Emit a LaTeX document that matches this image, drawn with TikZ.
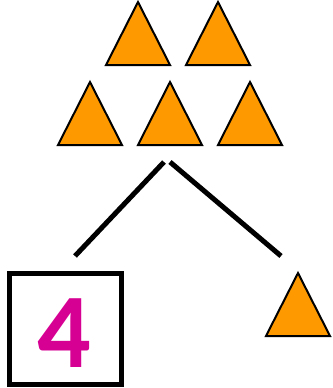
\documentclass[tikz,border=0pt]{standalone}
\usepackage{fontspec}
\newfontfamily\digitfont{Carlito}
\definecolor{triorange}{RGB}{255,153,0}
\definecolor{digitpink}{RGB}{214,0,147}
\begin{document}
\begin{tikzpicture}[x=1pt,y=-1pt,
  tri/.style={fill=triorange,draw=black,line width=2pt,line join=miter},
  link/.style={draw=black,line width=5pt},
  numbox/.style={draw=black,line width=5pt}]
\useasboundingbox (0,0) rectangle (332,388);
% triangles: apex x, top y
\foreach \n/\x/\y in {t1/138/2,t2/218/2,t3/90/82,t4/170/82,t5/250/82,t6/298/273}{
  \coordinate (\n) at (\x,\y);
  \draw[tri] (\n) -- ++(32,63) -- ++(-64,0) -- cycle;
}
\coordinate (l1) at (164,162);
\coordinate (l2) at (75,256);
\coordinate (r1) at (170,162);
\coordinate (r2) at (281,256);
\draw[link] (l1) -- (l2);
\draw[link] (r1) -- (r2);
\draw[numbox] (9.5,273.5) rectangle (121.5,384.5);
\node[text=digitpink,font=\digitfont\bfseries\fontsize{106}{106}\selectfont,inner sep=0pt,anchor=center] (four) at (64,333) {4};
\end{tikzpicture}
\end{document}
